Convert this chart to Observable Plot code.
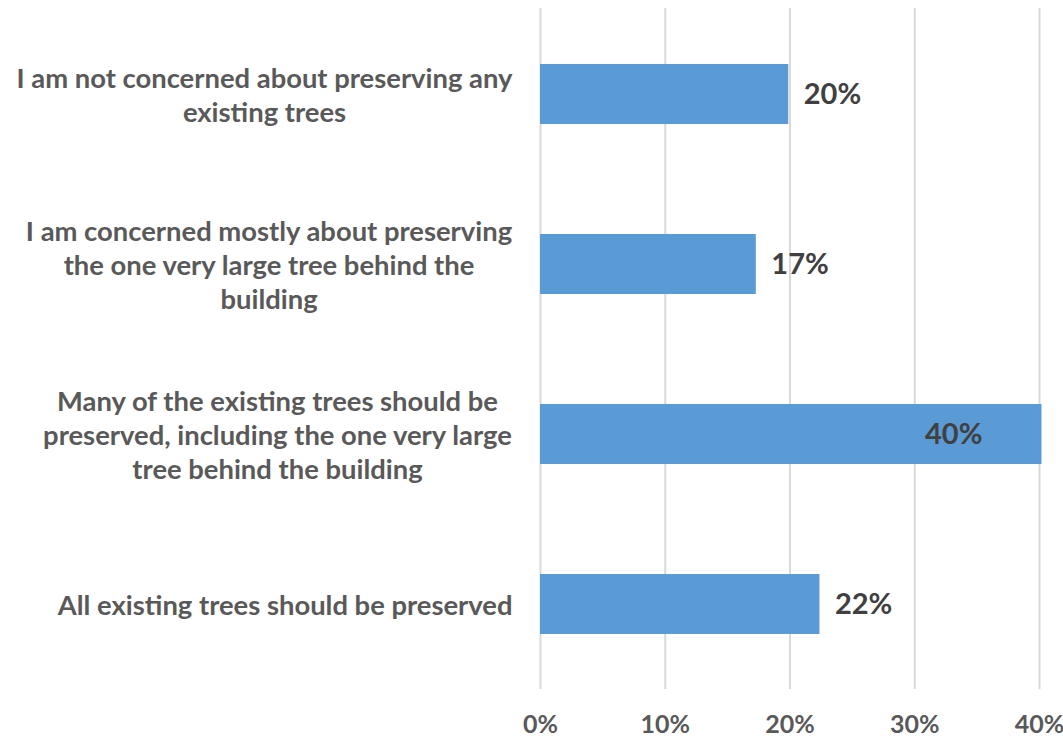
<!DOCTYPE html>
<html>
<head>
<meta charset="utf-8">
<script src="https://cdn.jsdelivr.net/npm/d3@7"></script>
<script src="https://cdn.jsdelivr.net/npm/@observablehq/plot@0.6"></script>
<style>
  html, body { margin: 0; padding: 0; background: #fff; }
</style>
</head>
<body>
<div id="chart"></div>
<script>
const categories = [
  "I am not concerned about preserving any\nexisting trees",
  "I am concerned mostly about preserving\nthe one very large tree behind the\nbuilding",
  "Many of the existing trees should be\npreserved, including the one very large\ntree behind the building",
  "All existing trees should be preserved"
];
const values = [0.199, 0.173, 0.402, 0.224];
const valueLabels = ["20%", "17%", "40%", "22%"];
const insideLabel = [false, false, true, false];
const xTicks = [0, 0.1, 0.2, 0.3, 0.4];

const FONT = "Lato, 'Open Sans', sans-serif";
const catSize = 27.4;
const data = categories.map((c, i) => ({cat: c, value: values[i], label: valueLabels[i], inside: insideLabel[i]}));

const ctx = document.createElement("canvas").getContext("2d");
ctx.font = `bold ${catSize}px Lato`;
function blockWidth(s) { return d3.max(s.split("\n"), l => ctx.measureText(l).width); }

const catMarks = data.map(d => Plot.text([d], {
  x: () => 0, y: "cat", text: "cat",
  textAnchor: "middle", lineAnchor: "middle",
  dx: -(28 + blockWidth(d.cat) / 2),
  fontSize: catSize, fontWeight: "bold", fill: "#595959", lineHeight: 34 / catSize
}));

const chart = Plot.plot({
  width: 1063,
  height: 741,
  marginLeft: 540,
  marginRight: 24,
  marginTop: 8,
  marginBottom: 52,
  style: {fontFamily: FONT, background: "#fff"},
  x: {domain: [0, 0.4], ticks: xTicks, tickFormat: d3.format(".0%"), label: null},
  y: {domain: categories, paddingInner: 0.648, paddingOuter: 0.324, axis: null},
  marks: [
    Plot.gridX(xTicks, {stroke: "#d9d9d9", strokeOpacity: 1, strokeWidth: 2}),
    Plot.axisX({ticks: xTicks, tickFormat: d3.format(".0%"), tickSize: 0, tickPadding: 26,
      fontSize: 25, fontWeight: "bold", fill: "#595959", label: null}),
    Plot.barX(data, {x: "value", y: "cat", fill: "#5b9bd5"}),
    Plot.text(data.filter(d => !d.inside), {x: "value", y: "cat", text: "label", textAnchor: "start", dx: 15,
      fontSize: 29, fontWeight: "bold", fill: "#404040"}),
    Plot.text(data.filter(d => d.inside), {x: "value", y: "cat", text: "label", textAnchor: "start", dx: -117,
      fontSize: 29, fontWeight: "bold", fill: "#404040"}),
    ...catMarks
  ]
});
document.getElementById("chart").append(chart);
</script>
</body>
</html>
